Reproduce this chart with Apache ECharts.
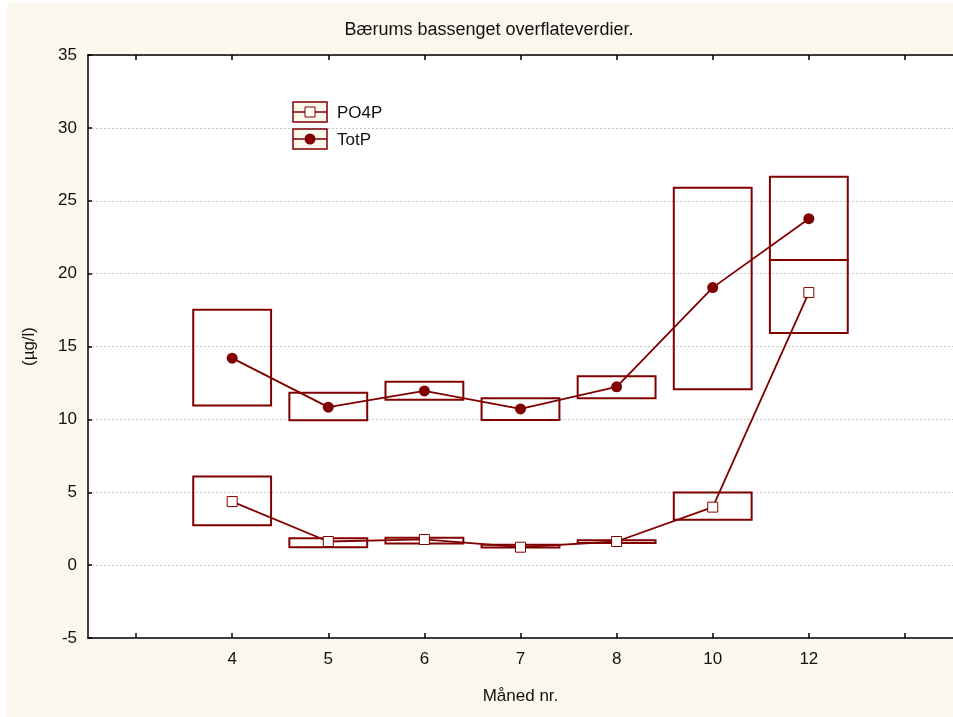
<!DOCTYPE html>
<html>
<head>
<meta charset="utf-8">
<script src="https://cdn.jsdelivr.net/npm/echarts@6/dist/echarts.min.js"></script>
<style>html,body{margin:0;padding:0;background:#fff;}#c{width:953px;height:717px;}</style>
</head>
<body>
<div id="c"></div>
<script>
// Category slots (empty slots at both ends)
var months = ['', '4', '5', '6', '7', '8', '10', '12', ''];
var monthIdx = [1, 2, 3, 4, 5, 6, 7];
var yTicks = [-5, 0, 5, 10, 15, 20, 25, 30, 35];

var po4pMean = [4.36, 1.62, 1.76, 1.23, 1.62, 3.98, 18.7];
var po4pLow  = [2.74, 1.23, 1.48, 1.21, 1.51, 3.11, 15.93];
var po4pHigh = [6.08, 1.85, 1.87, 1.39, 1.71, 4.98, 20.94];

var totpMean = [14.2, 10.84, 11.95, 10.72, 12.23, 19.04, 23.77];
var totpLow  = [10.95, 9.94, 11.34, 9.95, 11.45, 12.07, 20.94];
var totpHigh = [17.53, 11.82, 12.59, 11.45, 12.96, 25.9, 26.65];

var DARK = '#800000';
var FONT = 'Liberation Sans, Arial, sans-serif';
var FS = 17;

function boxData(lo, hi) {
  return monthIdx.map(function (m, i) { return [m, lo[i], hi[i]]; });
}
function lineData(v) {
  return monthIdx.map(function (m, i) { return [m, v[i]]; });
}
function renderBox(params, api) {
  var x = api.value(0);
  var top = api.coord([x, api.value(2)]);
  var bot = api.coord([x, api.value(1)]);
  var w = api.size([1, 0])[0] * 0.81;
  return {
    type: 'rect',
    shape: { x: top[0] - w / 2, y: top[1], width: w, height: bot[1] - top[1] },
    style: { fill: 'none', stroke: DARK, lineWidth: 2 }
  };
}

var tickStyle = { show: true, inside: true, length: 5, interval: 0, alignWithLabel: true, lineStyle: { color: '#000', width: 1.5 } };

var chart = echarts.init(document.getElementById('c'), null, { renderer: 'canvas' });
var option = {
  backgroundColor: '#ffffff',
  animation: false,
  graphic: [
    { type: 'rect', z: -10, shape: { x: 7, y: 3, width: 946, height: 714 }, style: { fill: '#fdf8ee' } },
    { type: 'text', x: 489, y: 30, style: { text: 'Bærums bassenget overflateverdier.', font: '18px ' + FONT, fill: '#111', align: 'center', verticalAlign: 'middle' } },
    // legend
    { type: 'rect', z: 10, shape: { x: 293, y: 102, width: 34, height: 20 }, style: { fill: '#fdf8ee', stroke: DARK, lineWidth: 1.5 } },
    { type: 'line', z: 10, shape: { x1: 293, y1: 112, x2: 327, y2: 112 }, style: { stroke: DARK, lineWidth: 1.5 } },
    { type: 'rect', z: 11, shape: { x: 305, y: 107, width: 10, height: 10 }, style: { fill: '#fff', stroke: DARK, lineWidth: 1 } },
    { type: 'text', z: 10, x: 337, y: 113, style: { text: 'PO4P', font: FS + 'px ' + FONT, fill: '#111', verticalAlign: 'middle' } },
    { type: 'rect', z: 10, shape: { x: 293, y: 129, width: 34, height: 20 }, style: { fill: '#fdf8ee', stroke: DARK, lineWidth: 1.5 } },
    { type: 'line', z: 10, shape: { x1: 293, y1: 139, x2: 327, y2: 139 }, style: { stroke: DARK, lineWidth: 1.5 } },
    { type: 'circle', z: 11, shape: { cx: 310, cy: 139, r: 5.5 }, style: { fill: DARK } },
    { type: 'text', z: 10, x: 337, y: 140, style: { text: 'TotP', font: FS + 'px ' + FONT, fill: '#111', verticalAlign: 'middle' } }
  ],
  grid: { left: 88, top: 55, right: 0, bottom: 79, show: true, backgroundColor: '#ffffff', borderWidth: 0 },
  xAxis: [
    {
      type: 'category', data: months, position: 'bottom',
      axisLine: { onZero: false, lineStyle: { color: '#000', width: 1.5 } },
      axisTick: tickStyle,
      axisLabel: { fontSize: FS, fontFamily: FONT, color: '#111', margin: 13, interval: 0 },
      name: 'Måned nr.', nameLocation: 'middle', nameGap: 50,
      nameTextStyle: { fontSize: FS, fontFamily: FONT, color: '#111' }
    },
    {
      type: 'category', data: months, position: 'top',
      axisLine: { onZero: false, lineStyle: { color: '#000', width: 1.5 } },
      axisTick: tickStyle,
      axisLabel: { show: false }
    }
  ],
  yAxis: {
    type: 'value', min: yTicks[0], max: yTicks[yTicks.length - 1], interval: 5,
    axisLine: { show: true, onZero: false, lineStyle: { color: '#000', width: 1.5 } },
    axisTick: { show: true, inside: true, length: 4, lineStyle: { color: '#000', width: 1.5 } },
    axisLabel: { fontSize: FS, fontFamily: FONT, color: '#111', margin: 11 },
    splitLine: { show: true, lineStyle: { color: '#c8c8c8', type: [2, 2], width: 1 } },
    name: '(µg/l)', nameLocation: 'middle', nameGap: 50, nameRotate: 90,
    nameTextStyle: { fontSize: FS, fontFamily: FONT, color: '#111' }
  },
  series: [
    { type: 'custom', name: 'PO4P box', renderItem: renderBox, data: boxData(po4pLow, po4pHigh), encode: { x: 0, y: [1, 2] }, z: 2 },
    { type: 'custom', name: 'TotP box', renderItem: renderBox, data: boxData(totpLow, totpHigh), encode: { x: 0, y: [1, 2] }, z: 2 },
    {
      type: 'line', name: 'PO4P', data: lineData(po4pMean), z: 5,
      symbol: 'rect', symbolSize: 10, showAllSymbol: true,
      lineStyle: { color: DARK, width: 1.8 },
      itemStyle: { color: '#ffffff', borderColor: DARK, borderWidth: 1 }
    },
    {
      type: 'line', name: 'TotP', data: lineData(totpMean), z: 5,
      symbol: 'circle', symbolSize: 11, showAllSymbol: true,
      lineStyle: { color: DARK, width: 1.8 },
      itemStyle: { color: DARK, borderColor: DARK, borderWidth: 0 }
    }
  ]
};
chart.setOption(option);
</script>
</body>
</html>
